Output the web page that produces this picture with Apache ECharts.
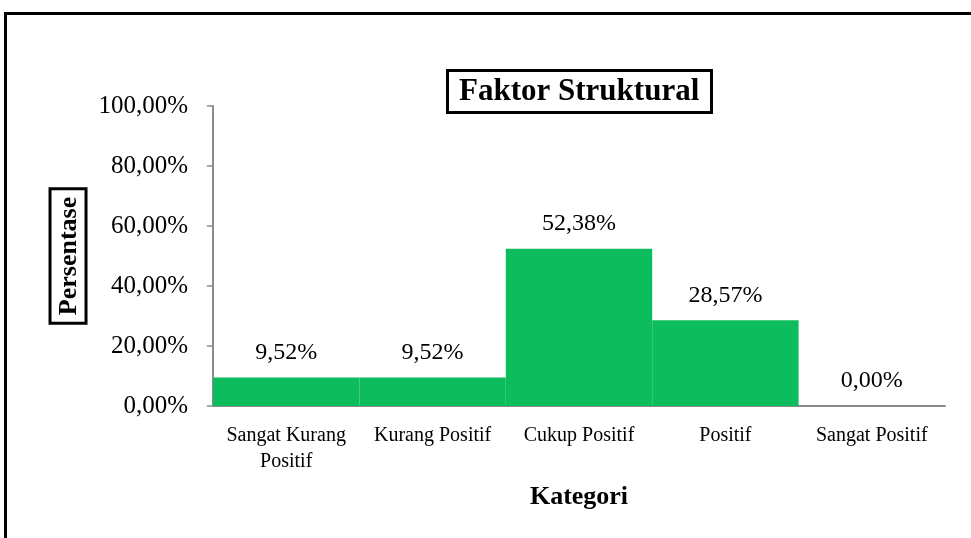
<!DOCTYPE html>
<html>
<head>
<meta charset="utf-8">
<script src="https://cdn.jsdelivr.net/npm/echarts@6/dist/echarts.min.js"></script>
<style>
html, body { margin: 0; padding: 0; background: #fff; }
#chart { width: 971px; height: 538px; }
</style>
</head>
<body>
<div id="chart"></div>
<script>
// data
var categories = ["Sangat Kurang\nPositif", "Kurang Positif", "Cukup Positif", "Positif", "Sangat Positif"];
var values = [9.52, 9.52, 52.38, 28.57, 0];
var yTicks = [0, 20, 40, 60, 80, 100];

var serif = "'Liberation Serif', 'Times New Roman', serif";

function pct(v) {
  return v.toFixed(2).replace(".", ",") + "%";
}

var myChart = echarts.init(document.getElementById("chart"));
myChart.setOption({
  animation: false,
  title: {
    text: "Faktor Struktural",
    left: 447,
    top: 70,
    padding: [6, 12, 6, 12],
    borderColor: "#000",
    borderWidth: 3,
    textStyle: {
      fontFamily: serif,
      fontWeight: "bold",
      fontSize: 31,
      color: "#000"
    }
  },
  // outer frame (only top and left edges show)
  graphic: [
    {
      type: "polyline",
      shape: { points: [[5.5, 538], [5.5, 13.5], [971, 13.5]] },
      style: { stroke: "#000", lineWidth: 3, fill: null }
    }
  ],
  grid: {
    left: 213,
    right: 26,
    top: 106,
    bottom: 132
  },
  xAxis: {
    type: "category",
    data: categories,
    name: "Kategori",
    nameLocation: "middle",
    nameGap: 78,
    nameTextStyle: {
      fontFamily: serif,
      fontWeight: "bold",
      fontSize: 26,
      color: "#000"
    },
    axisLine: { lineStyle: { color: "#8c8c8c", width: 2 } },
    axisTick: { show: false },
    axisLabel: {
      fontFamily: serif,
      fontSize: 20,
      lineHeight: 26,
      color: "#000",
      margin: 17,
      interval: 0
    }
  },
  yAxis: {
    type: "value",
    min: 0,
    max: 100,
    interval: 20,
    name: "Persentase",
    nameLocation: "middle",
    nameRotate: 90,
    nameGap: 126,
    nameTextStyle: {
      fontFamily: serif,
      fontWeight: "bold",
      fontSize: 26,
      color: "#000",
      borderColor: "#000",
      borderWidth: 3,
      padding: [6, 8, 4, 8]
    },
    axisLine: { show: true, lineStyle: { color: "#8c8c8c", width: 2 } },
    axisTick: { show: true, length: 6, lineStyle: { color: "#8c8c8c", width: 1.5 } },
    splitLine: { show: false },
    axisLabel: {
      fontFamily: serif,
      fontSize: 25,
      color: "#000",
      margin: 25,
      customValues: yTicks,
      formatter: function (v) { return pct(v); }
    }
  },
  series: [
    {
      type: "bar",
      data: values,
      barCategoryGap: "0%",
      itemStyle: { color: "#0dbc5c" },
      label: {
        show: true,
        position: "top",
        distance: 13,
        fontFamily: serif,
        fontSize: 24,
        color: "#000",
        formatter: function (p) { return pct(p.value); }
      }
    }
  ]
});
</script>
</body>
</html>
